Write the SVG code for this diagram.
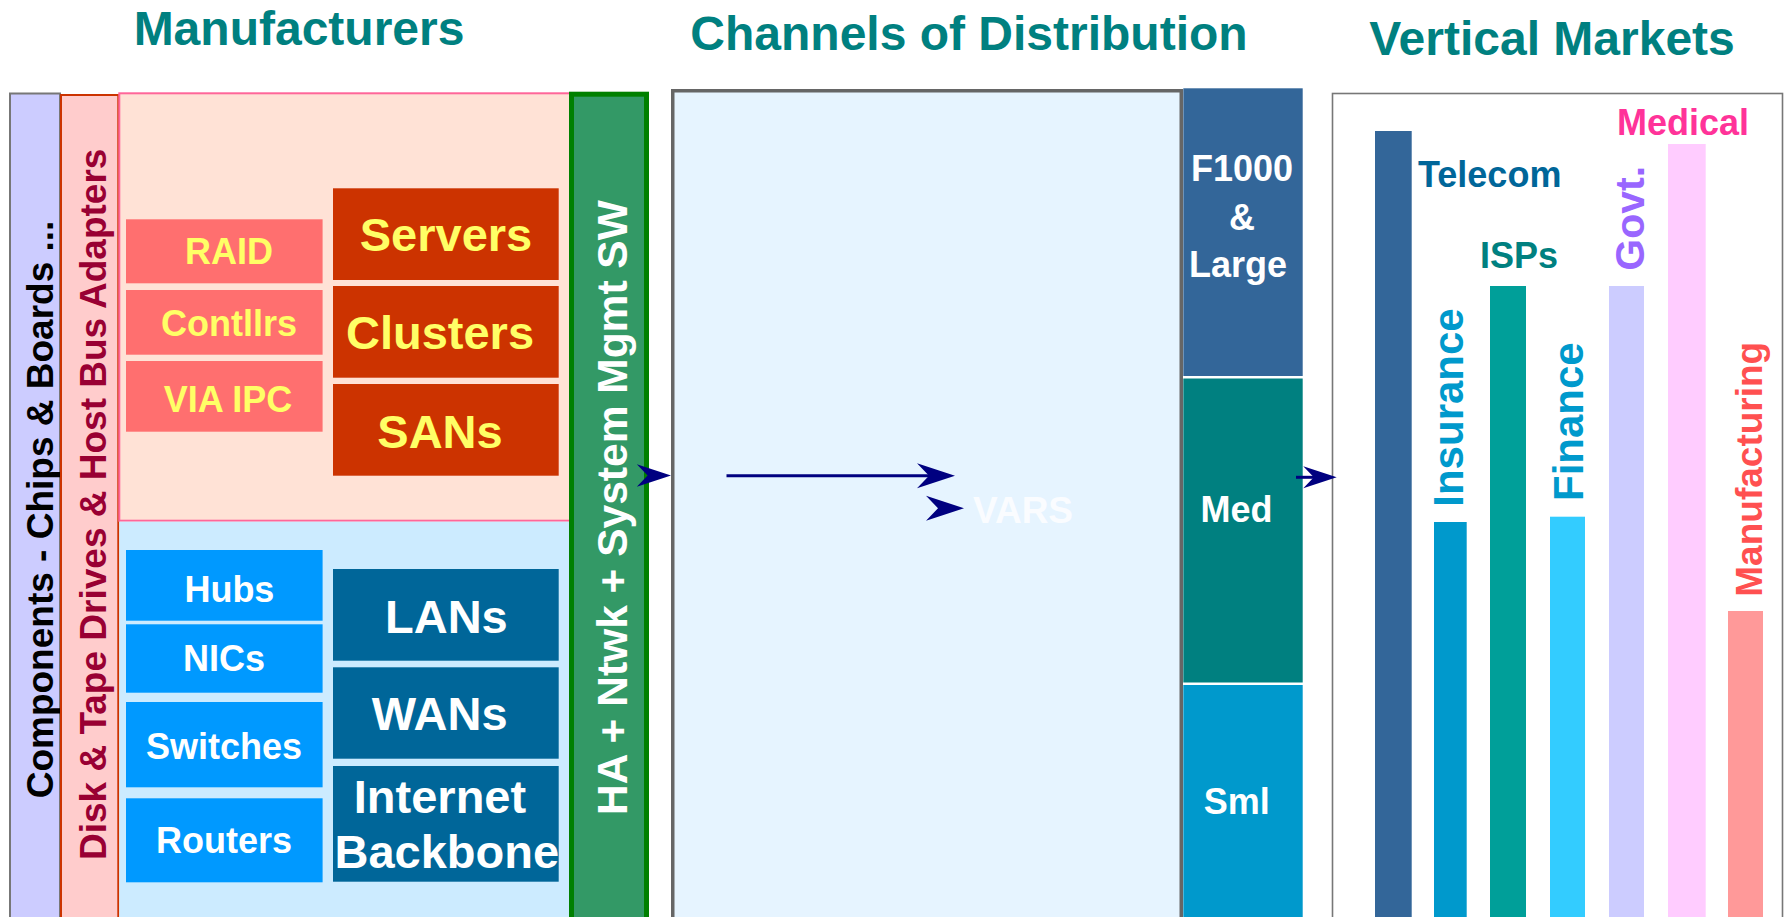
<svg xmlns="http://www.w3.org/2000/svg" xmlns:xlink="http://www.w3.org/1999/xlink" width="1784" height="917" viewBox="0 0 1784 917">
<style>
text{font-family:"Liberation Sans",Arial,sans-serif;font-weight:bold}
.title{font-size:48px;fill:#008080;text-anchor:middle}
.sm{font-size:36px;fill:#FFFF66;text-anchor:middle}
.lg{font-size:47px;fill:#FFFF66;text-anchor:middle}
.smw{font-size:36px;fill:#FFFFFF;text-anchor:middle}
.lgw{font-size:47px;fill:#FFFFFF;text-anchor:middle}
.salmon{fill:#FF6F6F}
.rust{fill:#CC3300}
.sky{fill:#0099FF}
.navy{fill:#006699}
.seg{font-size:36px;fill:#FFFFFF;text-anchor:middle}
.vm{font-size:36px}
.vr{font-size:42px}
.ah{fill:#000080}
</style>
<defs>
<path id="ah" d="M0,0 L-38,-12.5 L-26,0 L-38,12.5 Z"/>
</defs>
<rect x="0" y="0" width="1784" height="917" fill="#FFFFFF"/>

<g id="titles">
<text class="title" x="299" y="45">Manufacturers</text>
<text class="title" x="969" y="50">Channels of Distribution</text>
<text class="title" x="1552" y="55">Vertical Markets</text>
</g>

<g id="components">
<rect x="10" y="93.5" width="50" height="830" fill="#CCCCFF" stroke="#777777" stroke-width="2"/>
<text transform="translate(53,798.3) rotate(-90)" font-size="37" fill="#000000">Components - Chips &amp; Boards ...</text>
</g>

<g id="hba">
<rect x="61" y="95" width="57.3" height="830" fill="#FFCCCC" stroke="#CC3300" stroke-width="2"/>
<text transform="translate(106,860) rotate(-90)" font-size="37" fill="#990033">Disk &amp; Tape Drives &amp; Host Bus Adapters</text>
</g>

<g id="storage-region">
<rect x="119.3" y="93.3" width="452" height="427.4" fill="#FFE2D6" stroke="#FF6699" stroke-width="2"/>
</g>
<g id="network-region">
<rect x="119.3" y="521.7" width="451" height="400" fill="#CCEBFF"/>
</g>

<g id="raid"><rect class="salmon" x="126" y="219.3" width="196.6" height="64"/><text class="sm" x="229" y="264.3">RAID</text></g>
<g id="contllrs"><rect class="salmon" x="126" y="290" width="196.6" height="64.7"/><text class="sm" x="229" y="335.7">Contllrs</text></g>
<g id="via-ipc"><rect class="salmon" x="126" y="361" width="196.6" height="70.7"/><text class="sm" x="228" y="412.3">VIA IPC</text></g>
<g id="servers"><rect class="rust" x="333" y="188.3" width="225.7" height="91.7"/><text class="lg" x="446" y="251">Servers</text></g>
<g id="clusters"><rect class="rust" x="333" y="286" width="225.7" height="91.7"/><text class="lg" x="440" y="349.3">Clusters</text></g>
<g id="sans"><rect class="rust" x="333" y="384" width="225.7" height="91.7"/><text class="lg" x="440" y="447.7">SANs</text></g>

<g id="hubs"><rect class="sky" x="126" y="550" width="196.6" height="70.7"/><text class="smw" x="229.4" y="601.7">Hubs</text></g>
<g id="nics"><rect class="sky" x="126" y="624.3" width="196.6" height="68.4"/><text class="smw" x="224" y="670.7">NICs</text></g>
<g id="switches"><rect class="sky" x="126" y="702" width="196.6" height="85.3"/><text class="smw" x="224" y="759">Switches</text></g>
<g id="routers"><rect class="sky" x="126" y="798.3" width="196.6" height="84"/><text class="smw" x="224" y="853.3">Routers</text></g>
<g id="lans"><rect class="navy" x="333" y="569" width="225.7" height="91.7"/><text class="lgw" x="446.4" y="633.3">LANs</text></g>
<g id="wans"><rect class="navy" x="333" y="667.3" width="225.7" height="91.4"/><text class="lgw" x="439.7" y="730">WANs</text></g>
<g id="internet-backbone"><rect class="navy" x="333" y="766" width="225.7" height="115.7"/><text class="lgw" x="440" y="813.3" font-size="45">Internet</text><text class="lgw" x="446.8" y="867.7" font-size="45">Backbone</text></g>

<g id="mgmt-sw">
<rect x="571.5" y="94.2" width="75" height="830" fill="#339966" stroke="#008000" stroke-width="5"/>
<text transform="translate(627,815) rotate(-90)" font-size="42.5" fill="#FFFFFF">HA + Ntwk + System Mgmt SW</text>
</g>

<g id="channels">
<rect x="672.75" y="90.75" width="508.5" height="900" fill="#E6F4FF" stroke="#666666" stroke-width="3.5"/>
<text x="973" y="523" font-size="37" fill="#FAFCFF">VARS</text>
</g>

<g id="f1000-large">
<rect x="1183.3" y="88.3" width="119.4" height="287.7" fill="#336699"/>
<text class="seg" x="1242" y="180.7">F1000</text>
<text class="seg" x="1242" y="230">&amp;</text>
<text class="seg" x="1238" y="276.7">Large</text>
</g>
<g id="med">
<rect x="1183.3" y="378.5" width="119.4" height="304" fill="#008080"/>
<text class="seg" x="1236.5" y="522.3">Med</text>
</g>
<g id="sml">
<rect x="1183.3" y="685" width="119.4" height="240" fill="#0099CC"/>
<text class="seg" x="1236.7" y="814">Sml</text>
</g>

<g id="vertical-markets">
<rect x="1332.5" y="93.5" width="450" height="900" fill="#FFFFFF" stroke="#777777" stroke-width="1.6"/>
</g>
<g id="telecom"><rect x="1375" y="131" width="36.7" height="800" fill="#336699"/><text class="vm" x="1418" y="187.3" fill="#006699">Telecom</text></g>
<g id="insurance"><rect x="1434" y="522" width="32.7" height="400" fill="#0099CC"/><text class="vr" transform="translate(1463.3,506.7) rotate(-90)" fill="#0099CC">Insurance</text></g>
<g id="isps"><rect x="1490" y="286" width="36" height="640" fill="#009F99"/><text class="vm" x="1480" y="268.3" fill="#008080">ISPs</text></g>
<g id="finance"><rect x="1550" y="516.7" width="35" height="410" fill="#33CCFF"/><text class="vr" transform="translate(1583,501) rotate(-90)" fill="#0099CC">Finance</text></g>
<g id="govt"><rect x="1609" y="286" width="35" height="640" fill="#CCCCFF"/><text transform="translate(1644,270.7) rotate(-90)" font-size="41" fill="#9966FF">Govt.</text></g>
<g id="medical"><rect x="1668" y="144" width="37.7" height="780" fill="#FFCCFF"/><text class="vm" x="1617" y="135" fill="#FF3399">Medical</text></g>
<g id="manufacturing"><rect x="1728" y="611" width="35" height="320" fill="#FF9999"/><text transform="translate(1761.7,596.7) rotate(-90)" font-size="37" fill="#FF5050">Manufacturing</text></g>

<g id="connectors">
<use xlink:href="#ah" class="ah" transform="translate(671,475.5) scale(0.9)"/>
<line x1="726.5" y1="475.7" x2="935" y2="475.7" stroke="#000080" stroke-width="3"/>
<use xlink:href="#ah" class="ah" transform="translate(955,475.7)"/>
<use xlink:href="#ah" class="ah" transform="translate(964,508.3)"/>
<line x1="1296" y1="477.3" x2="1320" y2="477.3" stroke="#000080" stroke-width="3"/>
<use xlink:href="#ah" class="ah" transform="translate(1336.7,477.3) scale(0.88)"/>
</g>
</svg>
